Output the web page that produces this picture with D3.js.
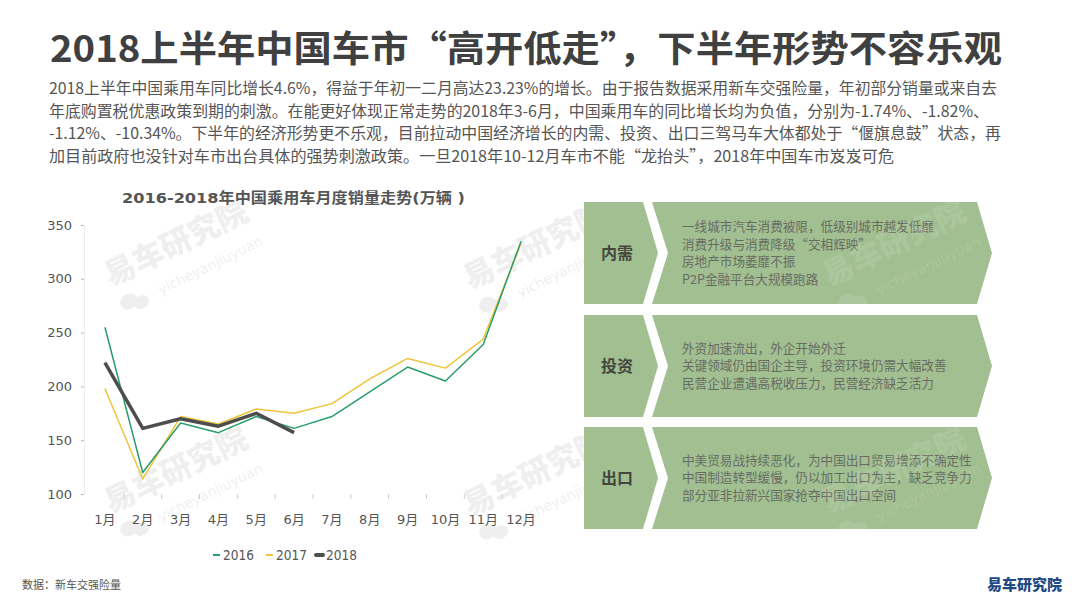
<!DOCTYPE html>
<html>
<head>
<meta charset="utf-8">
<script src="https://cdn.jsdelivr.net/npm/d3@7/dist/d3.min.js"></script>
<style>
  body { margin: 0; background: #fff; }
  svg { display: block; }
</style>
</head>
<body>
<div id="chart"></div>
<script>
// ---- data ----
const months = ["1月", "2月", "3月", "4月", "5月", "6月", "7月", "8月", "9月", "10月", "11月", "12月"];
const yTicks = [100, 150, 200, 250, 300, 350];
const sales2016 = [255, 120, 166, 157, 172, 161, 172, 195, 218, 205, 239, 335];
const sales2017 = [198, 114, 172, 165, 179, 175, 184, 207, 226, 217, 244, 333];
const sales2018 = [222, 161, 170, 163, 175, 157];
const seriesNames = ["2016", "2017", "2018"];

const titleText = "2018上半年中国车市“高开低走”，下半年形势不容乐观";
const introLines = [
  "2018上半年中国乘用车同比增长4.6%，得益于年初一二月高达23.23%的增长。由于报告数据采用新车交强险量，年初部分销量或来自去",
  "年底购置税优惠政策到期的刺激。在能更好体现正常走势的2018年3-6月，中国乘用车的同比增长均为负值，分别为-1.74%、-1.82%、",
  "-1.12%、-10.34%。下半年的经济形势更不乐观，目前拉动中国经济增长的内需、投资、出口三驾马车大体都处于“偃旗息鼓”状态，再",
  "加目前政府也没针对车市出台具体的强势刺激政策。一旦2018年10-12月车市不能“龙抬头”，2018年中国车市岌岌可危"
];
const chartTitle = "2016-2018年中国乘用车月度销量走势(万辆 )";
const panelLabels = ["内需", "投资", "出口"];
const panelTexts = [
  ["一线城市汽车消费被限，低级别城市越发低靡", "消费升级与消费降级“交相辉映”", "房地产市场萎靡不振", "P2P金融平台大规模跑路"],
  ["外资加速流出，外企开始外迁", "关键领域仍由国企主导，投资环境仍需大幅改善", "民营企业遭遇高税收压力，民营经济缺乏活力"],
  ["中美贸易战持续恶化，为中国出口贸易增添不确定性", "中国制造转型缓慢，仍以加工出口为主，缺乏竞争力", "部分亚非拉新兴国家抢夺中国出口空间"]
];
const sourceText = "数据：新车交强险量";
const brandText = "易车研究院";

const width = 1080;
const height = 608;
const cjk = "'Noto Sans CJK SC', sans-serif";
const numFont = "'DejaVu Sans', 'Noto Sans CJK SC', sans-serif";

const svg = d3.select("#chart").append("svg")
  .attr("width", width)
  .attr("height", height);

// title
svg.append("text")
  .attr("x", 50).attr("y", 62)
  .attr("textLength", 952).attr("lengthAdjust", "spacingAndGlyphs")
  .style("font-family", cjk).style("font-weight", 700)
  .style("font-size", "36px").attr("fill", "#404040")
  .text(titleText);

// intro paragraph
const introWidths = [948, 940, 952, 845];
svg.selectAll(".intro").data(introLines).enter().append("text")
  .attr("class", "intro")
  .attr("x", 49)
  .attr("y", (d, i) => 89 + i * 22.5)
  .attr("dy", "0.35em")
  .attr("textLength", (d, i) => introWidths[i])
  .attr("lengthAdjust", "spacingAndGlyphs")
  .style("font-family", cjk).style("font-size", "15.5px")
  .attr("fill", "#555")
  .text(d => d);

// watermark helper
function watermark(g, cx, cy, color, op) {
  const w = g.append("g")
    .attr("transform", "translate(" + cx + "," + cy + ") rotate(-26)")
    .attr("opacity", op);
  w.append("text").attr("text-anchor", "middle").attr("dy", "0.35em")
    .style("font-family", cjk).style("font-weight", 900).style("font-size", "31px")
    .attr("fill", color).text("易车研究院");
  w.append("text").attr("x", 21).attr("y", 35).attr("text-anchor", "middle").attr("dy", "0.35em")
    .style("font-family", "'DejaVu Sans', sans-serif").style("font-size", "14px")
    .attr("fill", color).text("yicheyanjiuyuan");
  w.append("ellipse").attr("cx", -68).attr("cy", 32).attr("rx", 9).attr("ry", 7.5).attr("fill", color);
  w.append("ellipse").attr("cx", -57).attr("cy", 38).attr("rx", 8).attr("ry", 6.5).attr("fill", color);
}

// chart
const x = d3.scaleBand().domain(months).range([86, 540]);
const y = d3.scaleLinear().domain([100, 350]).range([494, 225]);

const wmBack = svg.append("g");
[[176, 243], [535, 246], [176, 470], [535, 473]].forEach(p => watermark(wmBack, p[0], p[1], "#000", 0.06));

svg.append("text")
  .attr("x", 122).attr("y", 198).attr("dy", "0.35em")
  .attr("textLength", 343).attr("lengthAdjust", "spacingAndGlyphs")
  .style("font-family", "'DejaVu Sans', 'Noto Sans CJK SC', sans-serif")
  .style("font-weight", 700).style("font-size", "14.5px")
  .attr("fill", "#555")
  .text(chartTitle);

const yAxis = svg.append("g")
  .attr("transform", "translate(84,0)")
  .call(d3.axisLeft(y).tickValues(yTicks).tickSize(3).tickPadding(9));
yAxis.select(".domain").attr("stroke", "#eee");
yAxis.selectAll(".tick line").attr("stroke", "#bbb");
yAxis.selectAll(".tick text")
  .style("font-family", numFont).style("font-size", "13px").attr("fill", "#555");

const xAxis = svg.append("g")
  .attr("transform", "translate(0,494)")
  .call(d3.axisBottom(x).tickSize(0).tickPadding(21));
xAxis.select(".domain").remove();
xAxis.selectAll(".tick text")
  .style("font-family", numFont).style("font-size", "13px").attr("fill", "#555");
svg.append("g").selectAll("line").data(months.slice(1)).enter().append("line")
  .attr("x1", d => x(d)).attr("x2", d => x(d))
  .attr("y1", 494).attr("y2", 499)
  .attr("stroke", "#ccc");

const line = d3.line()
  .x((d, i) => x(months[i]) + x.bandwidth() / 2)
  .y(d => y(d));

const seriesData = [sales2016, sales2017, sales2018];
const seriesColors = ["#2a9d6c", "#ecc53c", "#4d4d4d"];
const seriesWidths = [1.5, 1.5, 3.5];

[1, 0, 2].forEach(k => {
  svg.append("path")
    .datum(seriesData[k])
    .attr("d", line)
    .attr("fill", "none")
    .attr("stroke", seriesColors[k])
    .attr("stroke-width", seriesWidths[k])
    .attr("stroke-linejoin", "round");
});

// legend
const legendX = [213, 266, 316];
const legend = svg.append("g");
seriesNames.forEach((name, k) => {
  legend.append("line")
    .attr("x1", legendX[k]).attr("x2", legendX[k] + 7)
    .attr("y1", 555).attr("y2", 555)
    .attr("stroke", seriesColors[k])
    .attr("stroke-width", k === 2 ? 4 : 2)
    .attr("stroke-linecap", k === 2 ? "round" : "butt");
  legend.append("text")
    .attr("x", legendX[k] + 10).attr("y", 555).attr("dy", "0.35em")
    .style("font-family", "'DejaVu Sans Condensed', 'DejaVu Sans', sans-serif")
    .style("font-size", "13.5px").attr("fill", "#555")
    .text(name);
});

// right panels
const rowTop = [202, 315, 427];
const rowH = 102;
const panelFill = "#a2bf91";
const panels = svg.append("g");
panelLabels.forEach((label, i) => {
  const t = rowTop[i], b = t + rowH, m = t + rowH / 2;
  panels.append("polygon")
    .attr("points", [[584, t], [643, t], [658, m], [643, b], [584, b]].join(" "))
    .attr("fill", panelFill);
  panels.append("polygon")
    .attr("points", [[652, t], [977, t], [992, m], [977, b], [652, b], [668, m]].join(" "))
    .attr("fill", panelFill);
  panels.append("text")
    .attr("x", 617).attr("y", m).attr("dy", "0.35em")
    .attr("text-anchor", "middle")
    .style("font-family", cjk).style("font-weight", 700).style("font-size", "16px")
    .attr("fill", "#43473f")
    .text(label);
  const lines = panelTexts[i];
  const step = 17.6;
  const first = m - (lines.length - 1) * step / 2;
  panels.selectAll(".pt" + i).data(lines).enter().append("text")
    .attr("x", 682)
    .attr("y", (d, j) => first + j * step)
    .attr("dy", "0.35em")
    .style("font-family", cjk).style("font-size", "12.6px")
    .attr("fill", "#676c63")
    .text(d => d);
});
const wmFront = svg.append("g");
[[894, 243], [894, 470]].forEach(p => watermark(wmFront, p[0], p[1], "#fff", 0.1));

// footer
svg.append("text")
  .attr("x", 22).attr("y", 585).attr("dy", "0.35em")
  .style("font-family", cjk).style("font-size", "11px")
  .attr("fill", "#555")
  .text(sourceText);
svg.append("text")
  .attr("x", 1062).attr("y", 585).attr("dy", "0.35em")
  .attr("text-anchor", "end")
  .style("font-family", cjk).style("font-weight", 900).style("font-size", "15px")
  .attr("fill", "#1f4a85")
  .text(brandText);
</script>
</body>
</html>
